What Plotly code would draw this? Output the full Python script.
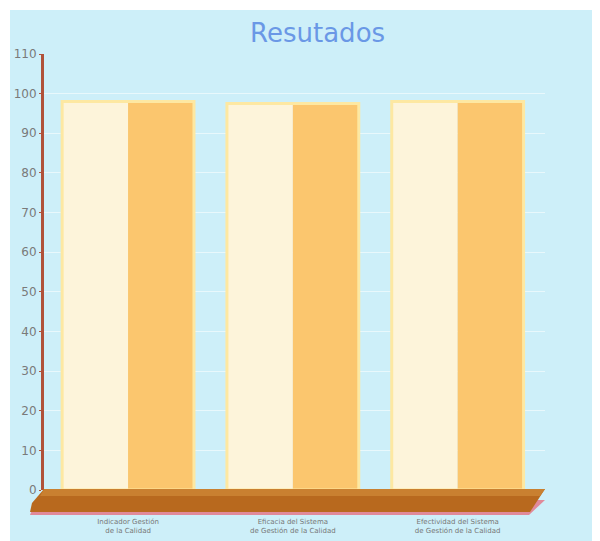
import plotly.graph_objects as go

categories = ["Indicador Gestión<br>de la Calidad",
              "Eficacia del Sistema<br>de Gestión de la Calidad",
              "Efectividad del Sistema<br>de Gestión de la Calidad"]
values = [98, 97.5, 98]
y_ticks = [0, 10, 20, 30, 40, 50, 60, 70, 80, 90, 100, 110]

xpos = list(range(len(categories)))

fig = go.Figure()
fig.add_trace(go.Bar(x=xpos, y=values, width=0.4, offset=-0.4,
                     marker=dict(color="#fdf4da", line=dict(width=0)),
                     hoverinfo="skip", showlegend=False))
fig.add_trace(go.Bar(x=xpos, y=values, width=0.4, offset=0.0,
                     marker=dict(color="#fbc66e", line=dict(width=0)),
                     hoverinfo="skip", showlegend=False))
fig.add_trace(go.Bar(x=xpos, y=values, width=0.8, offset=-0.4,
                     marker=dict(color="rgba(0,0,0,0)", line=dict(color="#fde8a2", width=3)),
                     hoverinfo="skip", showlegend=False))

OFF = 8  # page body margin
W, H = 600, 541
L = 44 - OFF
T = 54 - OFF
R = W - (545 - OFF)
B = H - (490 - OFF)
pw, ph = W - L - R, H - T - B

def px(x):  # page pixel -> paper
    return (x - OFF - L) / pw

def py(y):
    return (H - B - (y - OFF)) / ph

shapes = [
    dict(type="rect", xref="paper", yref="paper", layer="below",
         x0=px(10), x1=px(600), y0=py(560), y1=py(10),
         fillcolor="#cdeff9", line=dict(width=0)),
    dict(type="path", xref="paper", yref="paper", layer="above",
         path=f"M {px(36)},{py(500)} L {px(545)},{py(500)} L {px(529)},{py(515)} L {px(30)},{py(515)} Z",
         fillcolor="#e08a9a", line=dict(width=0)),
    dict(type="path", xref="paper", yref="paper", layer="above",
         path=f"M {px(44)},{py(489)} L {px(545)},{py(489)} L {px(530)},{py(512)} L {px(30)},{py(512)} L {px(32)},{py(503)} Z",
         fillcolor="#b8691e", line=dict(width=0)),
    dict(type="path", xref="paper", yref="paper", layer="above",
         path=f"M {px(44)},{py(489)} L {px(545)},{py(489)} L {px(540)},{py(496)} L {px(40)},{py(496)} Z",
         fillcolor="#c98030", line=dict(width=0)),
]

fig.update_layout(
    width=W, height=H,
    margin=dict(l=L, r=R, t=T, b=B, autoexpand=False),
    paper_bgcolor="white",
    plot_bgcolor="rgba(0,0,0,0)",
    barmode="overlay",
    title=dict(text="Resutados", x=0.516, xanchor="center", y=0.954, yanchor="middle",
               font=dict(family="DejaVu Sans", size=26, color="#6a98e6")),
    xaxis=dict(range=[-0.51, 2.53], tickvals=xpos, ticktext=categories,
               showgrid=False, zeroline=False, showline=False, ticks="",
               automargin=False,
               tickfont=dict(family="DejaVu Sans", size=7, color="#777777"),
               ticklabelstandoff=26),
    yaxis=dict(range=[0, 110], tickvals=y_ticks, showgrid=True,
               automargin=False,
               gridcolor="rgba(255,255,255,0.55)", gridwidth=1,
               zeroline=False, showline=True, linecolor="#b0523a", linewidth=3,
               ticks="outside", ticklen=2, tickcolor="#b0523a",
               tickfont=dict(family="DejaVu Sans", size=12, color="#7a7a7a")),
    shapes=shapes,
)

fig.write_html("out.html")
